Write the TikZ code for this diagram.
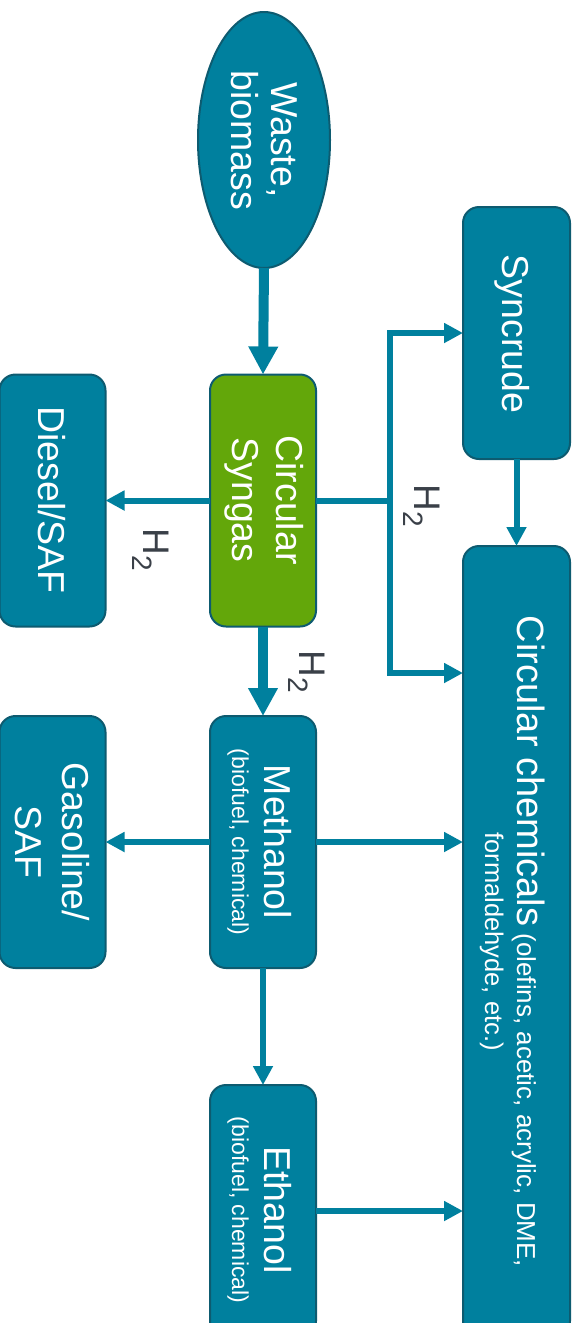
\documentclass[tikz,border=0pt]{standalone}
\usepackage{fontspec}
\setmainfont{Liberation Sans}
\usetikzlibrary{arrows.meta,shapes.geometric}
\definecolor{tealfill}{HTML}{00809E}
\definecolor{tealdark}{HTML}{0D5B70}
\definecolor{greenfill}{HTML}{63A70A}
\definecolor{hgray}{HTML}{3A4048}
\tikzset{
  procbox/.style={draw=tealdark, line width=2pt, fill=tealfill, rounded corners=16pt,
    minimum width=106pt, minimum height=252pt, inner sep=0pt, outer sep=0pt},
  greenbox/.style={procbox, fill=greenfill},
  maintxt/.style={rotate=-90, text=white, inner sep=0pt, anchor=base,
    font=\fontsize{37.5}{42}\selectfont},
  subtxt/.style={maintxt, font=\fontsize{23}{26}\selectfont},
  hlab/.style={rotate=-90, text=hgray, inner sep=0pt, font=\fontsize{37}{42}\selectfont},
  conn/.style={draw=tealfill, line width=6pt, -{Triangle[length=19pt,width=19pt]}},
  bigconn/.style={draw=tealfill, line width=10pt, -{Triangle[length=28pt,width=28pt]}},
}
\newcommand{\htwo}{H\raisebox{-11pt}{\fontsize{28}{30}\selectfont 2}}
\begin{document}
\begin{tikzpicture}[x=1pt,y=-1pt]
\useasboundingbox (0,0) rectangle (581,1323);

% shapes
\node[ellipse, draw=tealdark, line width=2pt, fill=tealfill, minimum width=132pt,
      minimum height=256pt, inner sep=0pt, outer sep=0pt] (waste) at (264,140) {};
\node[greenbox] (syn)   at (263,500.5) {};
\node[procbox]  (dies)  at (52.5,500.5) {};
\node[procbox, minimum width=107pt] (sync) at (516.5,333) {};
\node[procbox, minimum width=107pt, minimum height=791pt] (chem) at (516.5,941.5) {};
\node[procbox]  (meth)  at (263,842) {};
\node[procbox]  (gas)   at (52.5,842) {};
\node[procbox]  (eth)   at (263,1211) {};

% texts
\node[maintxt] (tw1) at (271,140) {Waste,};
\node[maintxt] (tw2) at (231,140) {biomass};
\node[maintxt] (ts1) at (276,500) {Circular};
\node[maintxt] (ts2) at (232,500) {Syngas};
\node[maintxt] (td)  at (38.5,500) {Diesel/SAF};
\node[maintxt] (tsy) at (502,334) {Syncrude};
\node[maintxt] (tm1) at (264,842) {Methanol};
\node[subtxt]  (tm2) at (232,842) {(biofuel, chemical)};
\node[maintxt] (tg1) at (62,842) {Gasoline/};
\node[maintxt] (tg2) at (15,842) {SAF};
\node[maintxt] (te1) at (264,1210) {Ethanol};
\node[subtxt]  (te2) at (232,1210) {(biofuel, chemical)};
\node[maintxt, font=\fontsize{38}{42}\selectfont] (tc1) at (517,941.5)
  {Circular chemicals\fontsize{26}{28}\selectfont{} (olefins, acetic, acrylic, DME,};
\node[subtxt, font=\fontsize{25.5}{28}\selectfont] (tc2) at (485,941.5) {formaldehyde, etc.)};

% connectors
\coordinate (j) at (390,500.5);
\coordinate (jc) at (390,673);
\draw[bigconn] (waste.south) -- (syn.north);
\draw[conn] (syn.west) -- (dies.east);
\draw[draw=tealfill, line width=6pt] (syn.east) -- ([xshift=3pt]j);
\draw[conn] (j) |- (sync.west);
\draw[conn] (j) |- (chem.west |- jc);
\draw[conn] (sync.south) -- (chem.north);
\draw[bigconn] (syn.south) -- (meth.north);
\draw[conn] (meth.west) -- (gas.east);
\draw[conn] (meth.east) -- (chem.west |- meth.east);
\draw[conn] (meth.south) -- (eth.north);
\draw[conn] (eth.east) -- (chem.west |- eth.east);

% H2 labels
\node[hlab] (h1) at (422,506) {\htwo};
\node[hlab] (h2) at (150.5,549.5) {\htwo};
\node[hlab] (h3) at (307,671.5) {\htwo};
\end{tikzpicture}
\end{document}
